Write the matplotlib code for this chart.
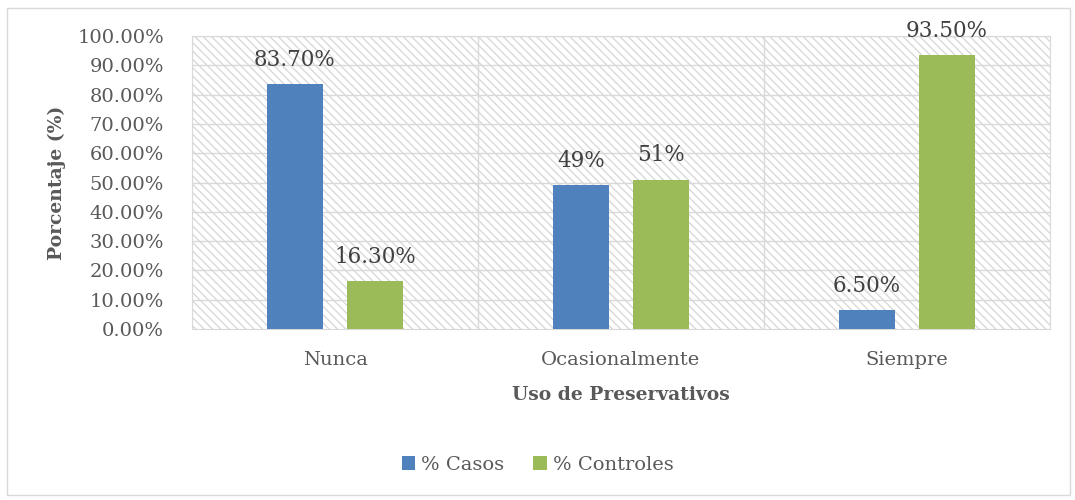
import numpy as np
import matplotlib.pyplot as plt
from matplotlib.patches import Rectangle

categorias = ['Nunca', 'Ocasionalmente', 'Siempre']
casos = [83.7, 49, 6.5]
controles = [16.3, 51, 93.5]
etiq_casos = ['83.70%', '49%', '6.50%']
etiq_controles = ['16.30%', '51%', '93.50%']

plt.rcParams['font.family'] = ['DejaVu Serif']
plt.rcParams['hatch.color'] = '#d9d9d9'
plt.rcParams['hatch.linewidth'] = 1.0
gris = '#595959'

fig = plt.figure(figsize=(10.75, 5), dpi=100)
ax = fig.add_axes([192/1075, 1-329/500, (1050-192)/1075, (329-36)/500])

# marco exterior
fig.patches.append(Rectangle((7/1075, 5/500), 1063/1075, 487/500, transform=fig.transFigure,
                             fill=False, edgecolor='#d9d9d9', linewidth=1))

# fondo rayado
ax.add_patch(Rectangle((0, 0), 1, 1, transform=ax.transAxes, facecolor='white',
                       hatch='\\\\\\\\', edgecolor='#d9d9d9', linewidth=0, zorder=0))

x = np.arange(len(categorias))
w = 0.196
off = 0.14
b1 = ax.bar(x - off, casos, w, color='#4f81bd', label='% Casos', zorder=3)
b2 = ax.bar(x + off, controles, w, color='#9bbb59', label='% Controles', zorder=3)

for rect, t in zip(b1, etiq_casos):
    ax.text(rect.get_x() + rect.get_width()/2, rect.get_height() + 4.5, t,
            ha='center', va='bottom', fontsize=15.5, color='#404040')
for rect, t in zip(b2, etiq_controles):
    ax.text(rect.get_x() + rect.get_width()/2, rect.get_height() + 4.5, t,
            ha='center', va='bottom', fontsize=15.5, color='#404040')

ax.set_xlim(-0.5, 2.5)
ax.set_ylim(0, 100)
ax.set_yticks(np.arange(0, 101, 10))
ax.set_yticklabels(['%.2f%%' % v for v in np.arange(0, 101, 10)])
ax.set_xticks(x)
ax.set_xticklabels(categorias)
ax.tick_params(axis='both', length=0, labelsize=14, colors=gris)
ax.tick_params(axis='x', pad=16)
ax.tick_params(axis='y', pad=20)

for yv in np.arange(10, 101, 10):
    ax.axhline(yv, color='#d9d9d9', linewidth=1, zorder=1)
for xv in [0.5, 1.5]:
    ax.axvline(xv, color='#d9d9d9', linewidth=1, zorder=1)
for s in ax.spines.values():
    s.set_color('#d9d9d9')

ax.set_ylabel('Porcentaje (%)', fontsize=13.5, fontweight='bold', color=gris, labelpad=8)
ax.set_xlabel('Uso de Preservativos', fontsize=13.5, fontweight='bold', color=gris, labelpad=12)

leg = fig.legend(loc='center', bbox_to_anchor=(0.5, 1-465/500), ncol=2, frameon=False,
                 fontsize=14, handlelength=0.7, handleheight=0.7, handletextpad=0.3,
                 columnspacing=1.5)
for t in leg.get_texts():
    t.set_color(gris)

fig.savefig('out.png', dpi=100)
